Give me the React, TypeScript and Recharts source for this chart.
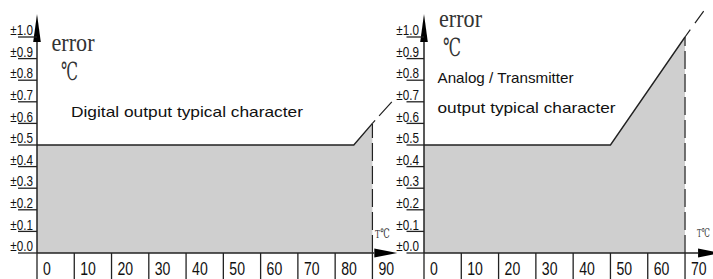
import React from "react";
import { ComposedChart, Area, Line, XAxis, YAxis, ReferenceLine, ReferenceDot } from "recharts";

const yTickValues = [0, 0.1, 0.2, 0.3, 0.4, 0.5, 0.6, 0.7, 0.8, 0.9, 1.0];
const yTickLabels = ["±0.0", "±0.1", "±0.2", "±0.3", "±0.4", "±0.5", "±0.6", "±0.7", "±0.8", "±0.9", "±1.0"];

const leftXTicks = [0, 10, 20, 30, 40, 50, 60, 70, 80, 90];
const rightXTicks = [0, 10, 20, 30, 40, 50, 60, 70];

const leftTemps = [0, 85, 90];
const leftErrors = [0.5, 0.5, 0.6];
const leftExtTemps = [90, 95.2];
const leftExtErrors = [0.6, 0.7];

const rightTemps = [0, 50, 70];
const rightErrors = [0.5, 0.5, 1.0];
const rightExtTemps = [70, 75];
const rightExtErrors = [1.0, 1.12];

const toRows = (ts: number[], es: number[]) => ts.map((t, i) => ({ t, e: es[i] }));

const INK = "#222";
const FILL = "#cfcfcf";
const SANS = "'Liberation Sans', Arial, sans-serif";
const SERIF = "'Liberation Serif', 'DejaVu Serif', serif";

function makeYTick(lineLen: number, textGap: number) {
  return (p: any) => {
    const { x, y, payload } = p;
    const idx = yTickValues.findIndex((v) => Math.abs(v - payload.value) < 1e-6);
    const label = idx >= 0 ? yTickLabels[idx] : "";
    return (
      <g>
        <line x1={x - lineLen} x2={x} y1={y} y2={y} stroke={INK} strokeWidth={1.3} />
        <text
          x={0}
          y={0}
          transform={`translate(${x - textGap},${y - 1.8}) scale(0.78,1)`}
          textAnchor="end"
          fontSize={15}
          fontFamily={SANS}
          fill="#111"
        >
          {label}
        </text>
      </g>
    );
  };
}

const XTick = (p: any) => {
  const { x, y, payload } = p;
  return (
    <g>
      <line x1={x} x2={x} y1={y} y2={y + 30} stroke={INK} strokeWidth={1.3} />
      <text
        x={0}
        y={0}
        transform={`translate(${x + 6},${y + 22}) scale(0.76,1)`}
        fontSize={18.5}
        fontFamily={SANS}
        fill="#111"
      >
        {payload.value}
      </text>
    </g>
  );
};

const UpArrow = (p: any) => {
  const { cx, cy } = p;
  return <polygon points={`${cx - 3.8},${cy + 5} ${cx + 3.8},${cy + 5} ${cx},${cy - 23}`} fill="#000" />;
};

const RightArrow = (p: any) => {
  const { cx, cy } = p;
  return <polygon points={`${cx},${cy - 4.5} ${cx},${cy + 4.5} ${cx + 23},${cy}`} fill="#000" />;
};

type PanelProps = {
  width: number;
  xMax: number;
  xTicks: number[];
  temps: number[];
  errors: number[];
  extTemps: number[];
  extErrors: number[];
  limit: number;
  limitErr: number;
  arrowAt: number;
  tickLineLen: number;
  tickTextGap: number;
  extDash: string;
};

function Panel(props: PanelProps) {
  const main = toRows(props.temps, props.errors);
  const ext = toRows(props.extTemps, props.extErrors);
  return (
    <ComposedChart
      width={props.width}
      height={279}
      margin={{ top: 4.6, right: 0, bottom: 0, left: 0 }}
      style={{ overflow: "visible" }}
    >
      <XAxis
        dataKey="t"
        type="number"
        domain={[0, props.xMax]}
        ticks={props.xTicks}
        interval={0}
        axisLine={false}
        tickLine={false}
        tickSize={0}
        tickMargin={0}
        height={26}
        tick={XTick}
        allowDataOverflow
      />
      <YAxis
        type="number"
        domain={[0, 1.15]}
        ticks={yTickValues}
        interval={0}
        axisLine={false}
        tickLine={false}
        tickSize={0}
        tickMargin={0}
        width={37}
        tick={makeYTick(props.tickLineLen, props.tickTextGap)}
        allowDataOverflow
      />
      <Area
        data={main}
        dataKey="e"
        type="linear"
        stroke={INK}
        strokeWidth={1.4}
        fill={FILL}
        fillOpacity={1}
        dot={false}
        activeDot={false}
        isAnimationActive={false}
      />
      <Line
        data={ext}
        dataKey="e"
        type="linear"
        stroke={INK}
        strokeWidth={1.2}
        strokeDasharray={props.extDash}
        dot={false}
        activeDot={false}
        isAnimationActive={false}
      />
      <ReferenceLine
        segment={[{ x: props.limit, y: 0 }, { x: props.limit, y: props.limitErr }]}
        stroke={INK}
        strokeWidth={1.2}
        strokeDasharray="18 5"
        ifOverflow="visible"
      />
      <ReferenceLine
        segment={[{ x: 0, y: 0 }, { x: 0, y: 1.0 }]}
        stroke={INK}
        strokeWidth={1.5}
        ifOverflow="visible"
      />
      <ReferenceLine
        segment={[{ x: 0, y: 0 }, { x: props.arrowAt, y: 0 }]}
        stroke={INK}
        strokeWidth={1.5}
        ifOverflow="visible"
      />
      <ReferenceDot x={0} y={1.0} r={1} ifOverflow="visible" shape={UpArrow} />
      <ReferenceDot x={props.arrowAt} y={0} r={1} ifOverflow="visible" shape={RightArrow} />
    </ComposedChart>
  );
}

export default function App() {
  return (
    <div style={{ position: "relative", width: 713, height: 279, overflow: "hidden", background: "#fff" }}>
      <style>{`body{margin:0;}`}</style>
      <div style={{ position: "absolute", left: 0, top: 0 }}>
        <Panel
          width={400}
          xMax={97.4}
          xTicks={leftXTicks}
          temps={leftTemps}
          errors={leftErrors}
          extTemps={leftExtTemps}
          extErrors={leftExtErrors}
          limit={90}
          limitErr={0.6}
          arrowAt={90.5}
          tickLineLen={19}
          tickTextGap={4}
          extDash="4 6 20"
        />
      </div>
      <div style={{ position: "absolute", left: 387, top: 0 }}>
        <Panel
          width={326}
          xMax={77.5}
          xTicks={rightXTicks}
          temps={rightTemps}
          errors={rightErrors}
          extTemps={rightExtTemps}
          extErrors={rightExtErrors}
          limit={70}
          limitErr={1.0}
          arrowAt={73.5}
          tickLineLen={17.5}
          tickTextGap={5}
          extDash="9 8 20"
        />
      </div>
      <svg
        width={713}
        height={279}
        style={{ position: "absolute", left: 0, top: 0, pointerEvents: "none" }}
      >
        <text x={51.5} y={51} fontSize={25} fontFamily={SERIF} fill="#333" textLength={43} lengthAdjust="spacingAndGlyphs">error</text>
        <text x={61} y={80} fontSize={25} fontFamily={SERIF} fill="#333" textLength={17} lengthAdjust="spacingAndGlyphs">℃</text>
        <text x={71} y={117.3} fontSize={14.5} fontFamily={SANS} fill="#111" textLength={232} lengthAdjust="spacingAndGlyphs">Digital output typical character</text>
        <text x={0} y={0} transform="translate(375,238) scale(0.65,1)" fontSize={13} fontFamily={SERIF} fill="#333">T℃</text>

        <text x={439} y={26.5} fontSize={25} fontFamily={SERIF} fill="#333" textLength={43} lengthAdjust="spacingAndGlyphs">error</text>
        <text x={443} y={56} fontSize={25} fontFamily={SERIF} fill="#333" textLength={18} lengthAdjust="spacingAndGlyphs">℃</text>
        <text x={437.5} y={83.3} fontSize={14.5} fontFamily={SANS} fill="#111" textLength={136} lengthAdjust="spacingAndGlyphs">Analog / Transmitter</text>
        <text x={437.5} y={113} fontSize={14.5} fontFamily={SANS} fill="#111" textLength={178} lengthAdjust="spacingAndGlyphs">output typical character</text>
        <text x={0} y={0} transform="translate(697,237) scale(0.6,1)" fontSize={12.5} fontFamily={SERIF} fill="#333">T℃</text>
      </svg>
    </div>
  );
}
